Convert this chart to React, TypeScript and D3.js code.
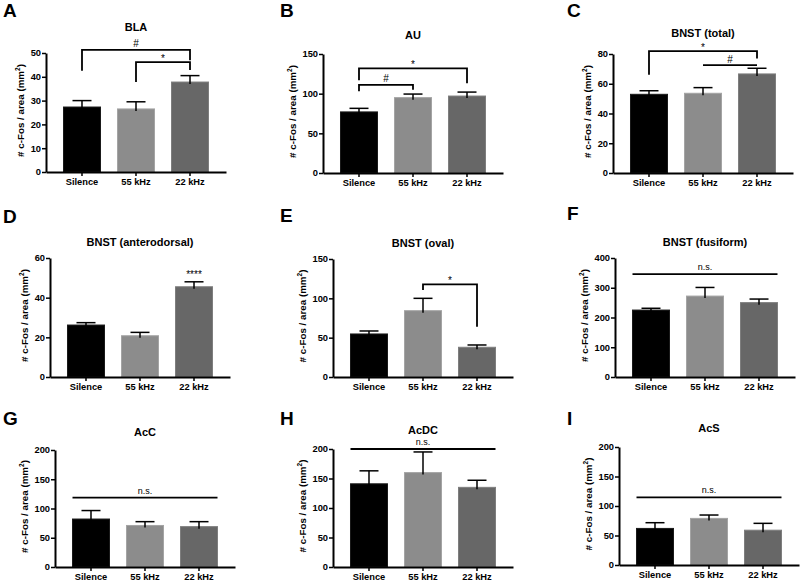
import React, { useRef, useEffect } from "react";
import * as d3 from "d3";

// Data
const groups = ["Silence", "55 kHz", "22 kHz"];
const letters = ["A", "B", "C", "D", "E", "F", "G", "H", "I"];
const regions = ["BLA", "AU", "BNST (total)", "BNST (anterodorsal)", "BNST (oval)", "BNST (fusiform)", "AcC", "AcDC", "AcS"];
const means = [
  [27.3, 26.5, 37.8],
  [77, 95, 97],
  [52.9, 53.6, 66.6],
  [26.2, 20.8, 45.5],
  [54.7, 84.3, 37.8],
  [225, 272, 250],
  [82, 71, 69],
  [141, 160, 135],
  [62, 79, 59],
];
const sems = [
  [2.7, 3.0, 2.7],
  [4.5, 4.5, 5],
  [2.4, 3.8, 3.8],
  [1.2, 1.7, 2.5],
  [3.8, 15.7, 2.9],
  [6, 29, 12],
  [14.5, 6.5, 8.5],
  [22, 35, 12],
  [9.7, 5.7, 11.6],
];
const yMax = [50, 150, 80, 60, 150, 400, 200, 200, 200];
const yStep = [10, 50, 20, 20, 50, 100, 50, 50, 50];

// significance brackets: [panel, from, to, level, leftEnd, rightEnd, label]
const brackets: [number, number, number, number, number, number, string][] = [
  [0, 0, 2, 51.3, 42.5, 47, "#"],
  [0, 1, 2, 46.2, 37.8, 42.9, "*"],
  [1, 0, 2, 132, 117, 113, "*"],
  [1, 0, 1, 111, 103, 105, "#"],
  [2, 0, 2, 82, 66, 77, "*"],
  [2, 1, 2, 72.5, 72.5, 72.5, "#"],
  [4, 1, 2, 117.8, 110.6, 64, "*"],
];
// n.s. lines: [panel, level]
const nsLines: [number, number][] = [[5, 346], [6, 118.6], [7, 200], [8, 114.7]];
// stars above a single bar: [panel, bar, level, label]
const starMarks: [number, number, number, string][] = [[3, 2, 52.4, "****"]];

// Layout (pixel positions for each panel)
const layout = [
  { x: 46, top: 53, zero: 172, title: 31, lx: 3, ly: 17 },
  { x: 323, top: 54, zero: 173, title: 39, lx: 280, ly: 17 },
  { x: 613, top: 54, zero: 173, title: 37, lx: 567, ly: 17 },
  { x: 50, top: 258, zero: 377, title: 246, lx: 3, ly: 223 },
  { x: 333, top: 259, zero: 377, title: 247, lx: 280, ly: 222 },
  { x: 615, top: 258, zero: 377, title: 246, lx: 567, ly: 220 },
  { x: 55, top: 450, zero: 567, title: 436, lx: 3, ly: 425 },
  { x: 333, top: 449, zero: 567, title: 434, lx: 280, ly: 425 },
  { x: 619, top: 447, zero: 565, title: 432, lx: 567, ly: 425 },
];
const fills = ["#000000", "#8c8c8c", "#676767"];
const strokes = ["#1a1a1a", "#a4a4a4", "#7e7e7e"];
const FONT = "'Liberation Sans', Arial, Helvetica, sans-serif";

const App = () => {
  const svgRef = useRef(null);

  useEffect(() => {
    const svg = d3.select(svgRef.current);
    svg.selectAll("*").remove();

    layout.forEach((L, i) => {
      const x = d3.scaleBand().domain(groups).range([L.x, L.x + 180]).paddingInner(0.315).paddingOuter(0.324);
      const y = d3.scaleLinear().domain([0, yMax[i]]).range([L.zero, L.top]);
      const g = svg.append("g").attr("font-family", FONT);
      const cx = (j) => x(groups[j]) + x.bandwidth() / 2;

      // panel letter + title
      g.append("text").attr("x", L.lx).attr("y", L.ly)
        .attr("font-size", 19).attr("font-weight", "bold").text(letters[i]);
      g.append("text").attr("x", L.x + 90).attr("y", L.title)
        .attr("text-anchor", "middle").attr("font-size", 11).attr("font-weight", "bold")
        .text(regions[i]);

      // bars
      g.selectAll("rect.bar").data(groups).join("rect")
        .attr("class", "bar")
        .attr("x", d => x(d))
        .attr("y", (_, j) => y(means[i][j]))
        .attr("width", x.bandwidth())
        .attr("height", (_, j) => L.zero - y(means[i][j]))
        .attr("fill", (_, j) => fills[j])
        .attr("stroke", (_, j) => strokes[j])
        .attr("stroke-width", 1);

      // error bars (upper only)
      groups.forEach((d, j) => {
        const c = cx(j);
        const top = y(means[i][j] + sems[i][j]);
        g.append("line").attr("x1", c).attr("x2", c)
          .attr("y1", y(means[i][j]) + 2).attr("y2", top)
          .attr("stroke", "#000").attr("stroke-width", 1.5);
        g.append("line").attr("x1", c - 9.5).attr("x2", c + 9.5)
          .attr("y1", top).attr("y2", top)
          .attr("stroke", "#000").attr("stroke-width", 1.5);
      });

      // axes
      const yAxis = d3.axisLeft(y)
        .tickValues(d3.range(0, yMax[i] + 1, yStep[i]))
        .tickSize(4).tickPadding(1).tickSizeOuter(0);
      const ya = g.append("g").attr("transform", `translate(${L.x},0)`).call(yAxis);
      const xAxis = d3.axisBottom(x).tickSize(4).tickPadding(2).tickSizeOuter(0);
      const xa = g.append("g").attr("transform", `translate(0,${L.zero})`).call(xAxis);
      [ya, xa].forEach(a => {
        a.attr("font-family", FONT).attr("font-size", 9.3);
        a.select(".domain").attr("stroke", "#000").attr("stroke-width", 2);
        a.selectAll(".tick line").attr("stroke", "#000").attr("stroke-width", 1.5);
        a.selectAll(".tick text").attr("fill", "#000").attr("font-weight", "bold");
      });

      // y label
      const maxDigits = String(yMax[i]).length;
      const labelX = L.x - 6 - maxDigits * 5.3 - 9;
      const lab = g.append("text")
        .attr("transform", `translate(${labelX + 3.5},${(L.top + L.zero) / 2 - 2}) rotate(-90)`)
        .attr("text-anchor", "middle").attr("font-size", 9.8).attr("font-weight", "bold");
      lab.append("tspan").text("# c-Fos / area (mm");
      lab.append("tspan").attr("font-size", 6.5).attr("dy", -4).text("2");
      lab.append("tspan").attr("dy", 4).text(")");

      // significance brackets
      brackets.filter(b => b[0] === i).forEach(([, a, b, lvl, le, re, label]) => {
        const x1 = cx(a), x2 = cx(b), yl = y(lvl);
        const path = d3.path();
        path.moveTo(x1, y(le));
        path.lineTo(x1, yl);
        path.lineTo(x2, yl);
        path.lineTo(x2, y(re));
        g.append("path").attr("d", path.toString()).attr("fill", "none")
          .attr("stroke", "#000").attr("stroke-width", 1.8);
        g.append("text").attr("x", (x1 + x2) / 2).attr("y", label === "*" ? yl - 0.5 : yl - 2.5)
          .attr("text-anchor", "middle").attr("font-size", 10).text(label);
      });

      nsLines.filter(n => n[0] === i).forEach(([, lvl]) => {
        const x1 = x(groups[0]), x2 = x(groups[2]) + x.bandwidth(), yl = y(lvl);
        g.append("line").attr("x1", x1).attr("x2", x2).attr("y1", yl).attr("y2", yl)
          .attr("stroke", "#000").attr("stroke-width", 1.8);
        g.append("text").attr("x", (x1 + x2) / 2).attr("y", yl - 4)
          .attr("text-anchor", "middle").attr("font-size", 9).text("n.s.");
      });

      starMarks.filter(s => s[0] === i).forEach(([, j, lvl, label]) => {
        g.append("text").attr("x", cx(j)).attr("y", y(lvl) + 5)
          .attr("text-anchor", "middle").attr("font-size", 10).attr("fill", "#000").text(label);
      });
    });
  }, []);

  return (
    <svg ref={svgRef} width={800} height={582}
      style={{ position: "absolute", left: 0, top: 0, background: "#fff", display: "block" }} />
  );
};

export default App;
